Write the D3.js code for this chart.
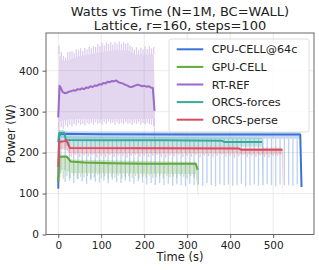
<!DOCTYPE html>
<html>
<head>
<meta charset="utf-8">
<script src="https://cdn.jsdelivr.net/npm/d3@7"></script>
<style>
  body { margin: 0; background: #fff; }
  svg { font-family: "DejaVu Sans", sans-serif; }
</style>
</head>
<body>
<div id="chart"></div>
<script>
// series names, in legend order
const seriesNames = ['CPU-CELL@64c', 'GPU-CELL', 'RT-REF', 'ORCS-forces', 'ORCS-perse'];
const xTicks = [0, 100, 200, 300, 400, 500];
const yTicks = [0, 100, 200, 300, 400];

// CPU-CELL@64c
const cpuT = [0, 2, 5, 100, 300, 563, 566];
const cpuMean = [112, 240, 246, 245, 244, 244, 116];
const cpuBandT = [0, 2, 563, 566];
const cpuLo = [108, 234, 234, 114];
const cpuHi = [114, 252, 251, 118];
const cpuDips = [150, 128, 132, 126, 135, 130, 124, 133, 129, 127, 131, 125, 134, 128, 126, 132, 129, 124, 130, 127,
  122, 126, 121, 125, 120, 124, 119, 123, 121, 118, 124, 120, 122, 119, 125, 121, 118, 123, 120, 122,
  119, 121, 124, 118, 120, 122, 119, 121, 123, 120, 118, 122, 120, 121, 119, 122];

// GPU-CELL
const gpuT = [0, 2, 20, 29, 60, 124, 200, 320, 324];
const gpuMean = [128, 190, 190, 178, 176, 174, 173, 173, 158];
const gpuBandT = [0, 2, 20, 29, 320, 323, 326];
const gpuLo = [125, 158, 156, 150, 148, 120, 88];
const gpuHi = [135, 195, 195, 183, 177, 170, 160];
const gpuDips = [140, 137, 142, 138, 144, 136, 141, 139, 143, 137, 140, 145, 138, 142, 136, 141, 139, 144, 137, 140,
  142, 138, 143, 136, 141, 139, 144, 138, 140, 142, 137, 143, 139, 141, 138, 144, 140, 137, 142, 139];

// RT-REF
const rtT = [0, 3, 6, 10, 15, 20, 25, 30, 35, 40, 45, 50, 55, 60, 65, 70, 75, 80, 85, 90, 95, 100, 105, 110,
  115, 120, 125, 130, 135, 140, 145, 150, 155, 160, 165, 170, 175, 180, 185, 190, 195, 200, 205, 210, 215, 220, 224];
const rtMean = [286, 363, 358, 348, 345, 346, 349, 350, 352, 351, 355, 354, 357, 355, 359, 358, 362, 360, 364, 363, 367, 366, 370, 369,
  373, 372, 375, 374, 376, 372, 370, 369, 366, 364, 361, 360, 362, 364, 366, 364, 362, 363, 361, 362, 359, 358, 302];
const rtBandT = [0, 2, 10, 20, 50, 100, 130, 160, 180, 222, 225];
const rtLo = [250, 272, 278, 280, 282, 282, 282, 282, 282, 282, 100];
const rtHi = [290, 440, 425, 425, 435, 445, 450, 450, 438, 440, 320];
const rtPeaks = [461, 445, 436, 432, 445, 446, 448, 444, 452, 450, 455, 448, 456, 452, 458, 455, 460, 458, 465, 460,
  468, 462, 469, 465, 470, 464, 470, 466, 471, 465, 469, 466, 468, 462, 458, 452, 457, 450, 456, 452,
  459, 453, 460, 455, 458];
const rtDips = [250, 262, 258, 266, 262, 268, 264, 270, 266, 272, 268, 270, 266, 272, 269, 273, 268, 274, 270, 272,
  268, 274, 270, 275, 271, 273, 268, 274, 270, 273, 269, 274, 270, 272, 268, 273, 270, 274, 268, 272,
  269, 273, 270, 268, 265];

// ORCS-forces
const orcfT = [0, 2, 14, 18, 100, 250, 380, 386, 474];
const orcfMean = [225, 248, 248, 231, 230, 230, 229, 226, 226];
const orcfBandT = [0, 2, 14, 18, 474, 477];
const orcfLo = [205, 236, 236, 216, 214, 100];
const orcfHi = [228, 255, 255, 240, 236, 226];

// ORCS-perse
const orcpT = [0, 2, 15, 18, 22, 27, 420, 425, 522];
const orcpMean = [165, 226, 228, 230, 224, 211, 210, 207, 207];
const orcpBandT = [0, 2, 15, 22, 27, 420, 425, 520, 523];
const orcpLo = [40, 208, 208, 204, 198, 198, 196, 196, 84];
const orcpHi = [170, 232, 234, 232, 216, 215, 212, 212, 200];
const orcpDips = [190, 194, 189, 193, 191, 195, 188, 192, 190, 194, 189, 193, 191, 188, 192, 195, 190, 193, 189, 192,
  194, 190, 188, 193, 191, 195, 189, 192, 190, 194, 188, 193, 191, 189, 192, 195, 190, 193, 188, 191,
  194, 190, 192, 189, 193, 190, 188, 192, 191];

const colors = ['#3a73d6', '#62a83c', '#9a6bc7', '#3ba99a', '#d64e5e'];

const series = [
  { t: cpuT, mean: cpuMean, bandT: cpuBandT, lo: cpuLo, hi: cpuHi, dips: cpuDips, dipStart: 6, dipStep: 10 },
  { t: gpuT, mean: gpuMean, bandT: gpuBandT, lo: gpuLo, hi: gpuHi, dips: gpuDips, dipStart: 4, dipStep: 8 },
  { t: rtT, mean: rtMean, bandT: rtBandT, lo: rtLo, hi: rtHi, dips: rtDips, peaks: rtPeaks, dipStart: 2, dipStep: 5 },
  { t: orcfT, mean: orcfMean, bandT: orcfBandT, lo: orcfLo, hi: orcfHi },
  { t: orcpT, mean: orcpMean, bandT: orcpBandT, lo: orcpLo, hi: orcpHi, dips: orcpDips, dipStart: 30, dipStep: 10 }
];

const W = 319, H = 270;
const margin = { top: 33, right: 5, bottom: 35.5, left: 46 };
const width = W - margin.left - margin.right;
const height = H - margin.top - margin.bottom;

const svg = d3.select('#chart').append('svg')
  .attr('width', W)
  .attr('height', H);

const g = svg.append('g')
  .attr('transform', `translate(${margin.left},${margin.top})`);

const x = d3.scaleLinear().domain([-28.5, 595]).range([0, width]);
const y = d3.scaleLinear().domain([0, 492]).range([height, 0]);

g.append('clipPath').attr('id', 'clip')
  .append('rect').attr('width', width).attr('height', height);

// grid
g.append('g').selectAll('line').data(xTicks).join('line')
  .attr('x1', d => x(d)).attr('x2', d => x(d))
  .attr('y1', 0).attr('y2', height)
  .attr('stroke', '#e6e6e6').attr('stroke-width', 0.8);
g.append('g').selectAll('line').data(yTicks).join('line')
  .attr('x1', 0).attr('x2', width)
  .attr('y1', d => y(d)).attr('y2', d => y(d))
  .attr('stroke', '#e6e6e6').attr('stroke-width', 0.8);

const plot = g.append('g').attr('clip-path', 'url(#clip)');

series.forEach((s, k) => {
  const c = colors[k];
  const band = s.bandT.map((t, i) => ({ t, lo: s.lo[i], hi: s.hi[i] }));

  plot.append('path')
    .datum(band)
    .attr('fill', c)
    .attr('fill-opacity', 0.28)
    .attr('d', d3.area().x(d => x(d.t)).y0(d => y(d.lo)).y1(d => y(d.hi)));

  // spikes of the min / max envelope
  const loAt = d3.scaleLinear().domain(s.bandT).range(s.lo);
  const hiAt = d3.scaleLinear().domain(s.bandT).range(s.hi);
  if (s.dips) {
    plot.append('g').selectAll('line').data(s.dips).join('line')
      .attr('x1', (d, i) => x(s.dipStart + i * s.dipStep))
      .attr('x2', (d, i) => x(s.dipStart + i * s.dipStep))
      .attr('y1', (d, i) => y(loAt(s.dipStart + i * s.dipStep)))
      .attr('y2', d => y(d))
      .attr('stroke', c).attr('stroke-opacity', 0.33).attr('stroke-width', 1.3);
  }
  if (s.peaks) {
    plot.append('g').selectAll('line').data(s.peaks).join('line')
      .attr('x1', (d, i) => x(s.dipStart + i * s.dipStep))
      .attr('x2', (d, i) => x(s.dipStart + i * s.dipStep))
      .attr('y1', (d, i) => y(hiAt(s.dipStart + i * s.dipStep)))
      .attr('y2', d => y(d))
      .attr('stroke', c).attr('stroke-opacity', 0.33).attr('stroke-width', 1.3);
  }

  plot.append('path')
    .datum(s.t.map((t, i) => [t, s.mean[i]]))
    .attr('fill', 'none')
    .attr('stroke', c)
    .attr('stroke-width', 2)
    .attr('stroke-linejoin', 'round')
    .attr('d', d3.line().x(d => x(d[0])).y(d => y(d[1])));
});

// axes
const xAxis = g.append('g')
  .attr('transform', `translate(0,${height})`)
  .call(d3.axisBottom(x).tickValues(xTicks).tickSize(3.5).tickPadding(3.5));
const yAxis = g.append('g')
  .call(d3.axisLeft(y).tickValues(yTicks).tickSize(3.5).tickPadding(3.5));
[xAxis, yAxis].forEach(a => {
  a.select('.domain').remove();
  a.selectAll('line').attr('stroke', '#333').attr('stroke-width', 0.8);
  a.selectAll('text').attr('font-size', 10.5).attr('fill', '#222').attr('font-family', 'DejaVu Sans');
});

g.append('rect')
  .attr('width', width).attr('height', height)
  .attr('fill', 'none').attr('stroke', '#444').attr('stroke-width', 0.8);

// legend
const lg = g.append('g').attr('transform', `translate(${169 - margin.left},${39 - margin.top})`);
lg.append('rect')
  .attr('width', 140).attr('height', 93)
  .attr('rx', 2.5)
  .attr('fill', '#fff').attr('fill-opacity', 0.8)
  .attr('stroke', '#d6d6d6').attr('stroke-width', 0.8);
seriesNames.forEach((name, i) => {
  const row = lg.append('g').attr('transform', `translate(0,${10.3 + i * 17.6})`);
  row.append('line')
    .attr('x1', 7.7).attr('x2', 34.3)
    .attr('stroke', colors[i]).attr('stroke-width', 2);
  row.append('text')
    .attr('x', 42.7).attr('dy', '0.36em')
    .attr('font-size', 11.2).attr('fill', '#222')
    .text(name);
});

// title and labels
svg.append('text')
  .attr('x', margin.left + width / 2).attr('y', 16)
  .attr('text-anchor', 'middle').attr('font-size', 13).attr('fill', '#222')
  .text('Watts vs Time (N=1M, BC=WALL)');
svg.append('text')
  .attr('x', margin.left + width / 2).attr('y', 29.5)
  .attr('text-anchor', 'middle').attr('font-size', 13).attr('fill', '#222')
  .text('Lattice, r=160, steps=100');
svg.append('text')
  .attr('x', margin.left + width / 2).attr('y', 260.5)
  .attr('text-anchor', 'middle').attr('font-size', 11.5).attr('fill', '#222')
  .text('Time (s)');
svg.append('text')
  .attr('transform', `translate(15,${margin.top + height / 2}) rotate(-90)`)
  .attr('text-anchor', 'middle').attr('font-size', 11.5).attr('fill', '#222')
  .text('Power (W)');
</script>
</body>
</html>
